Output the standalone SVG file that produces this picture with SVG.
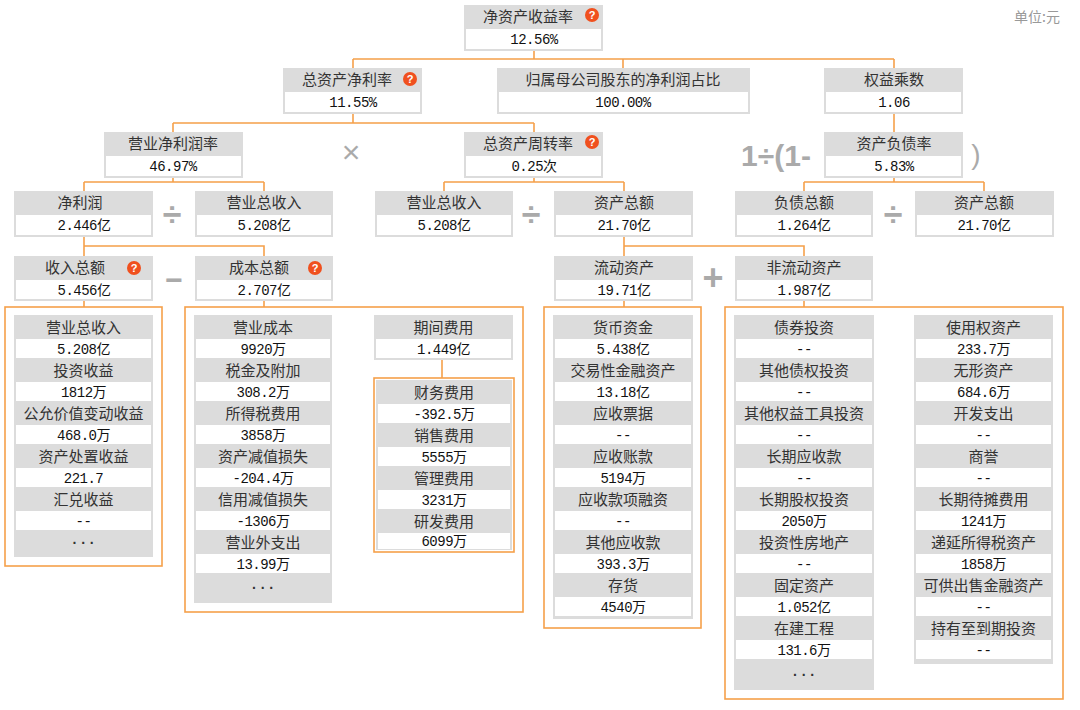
<svg xmlns="http://www.w3.org/2000/svg" width="1080" height="710" viewBox="0 0 1080 710">
<style>
.hd{fill:#dcdcdc}
.bd{fill:#ffffff}
.lb{font-family:"Noto Sans CJK SC","Noto Sans",sans-serif;font-size:15px;fill:#333;text-anchor:middle}
.vl{font-family:"Liberation Mono","Noto Sans CJK SC",monospace;font-size:14px;letter-spacing:-0.5px;fill:#111;text-anchor:middle}
.ob{fill:none;stroke:#f5a04a;stroke-width:1.6}
.cn{fill:none;stroke:#f5a04a;stroke-width:1.6}
.op{font-family:"Liberation Sans","Noto Sans CJK SC",sans-serif;fill:#aaa;text-anchor:middle}
.qi{fill:#f0501e}
.qt{font-family:"Liberation Sans",sans-serif;font-size:11px;font-weight:bold;fill:#fff;text-anchor:middle}
.el{font-family:"Liberation Sans",sans-serif;font-size:14px;font-weight:bold;fill:#333;text-anchor:middle}
</style>
<rect width="1080" height="710" fill="#fff"/>
<text x="1037" y="22" style="font-family:'Noto Sans CJK SC',sans-serif;font-size:14px;fill:#999;text-anchor:middle">单位:元</text>

<g id="connectors">
<path class="cn" d="M534 51V59M353 59H894M353 59V68M623 59V68M894 59V68"/>
<path class="cn" d="M353 114V123M173 123H534M173 123V132M534 123V132"/>
<path class="cn" d="M894 114V132"/>
<path class="cn" d="M173 178V182M84 182H264M84 182V191M264 182V191"/>
<path class="cn" d="M534 178V182M444 182H624M444 182V191M624 182V191"/>
<path class="cn" d="M894 178V182M804 182H984M804 182V191M984 182V191"/>
<path class="cn" d="M84 237V256M84 246H264V256"/>
<path class="cn" d="M624 237V256M624 246H804V256"/>
<path class="cn" d="M84 301V307M264 301V307M624 301V307M804 301V307"/>
<path class="cn" d="M442 360V378"/>
</g>

<g id="operators">
<text class="op" x="351" y="163" style="font-size:32px">×</text>
<text class="op" x="776" y="166" style="font-size:30px;font-weight:bold">1÷(1-</text>
<text class="op" x="976" y="164" style="font-size:28px">)</text>
<text class="op" x="172" y="226" style="font-size:34px;font-weight:bold">÷</text>
<text class="op" x="531" y="226" style="font-size:34px;font-weight:bold">÷</text>
<text class="op" x="893" y="226" style="font-size:34px;font-weight:bold">÷</text>
<text class="op" x="174" y="290" style="font-size:30px;font-weight:bold">−</text>
<text class="op" x="713" y="290" style="font-size:36px;font-weight:bold">+</text>
</g>

<g id="roe">
<rect class="hd" x="464" y="5" width="139" height="46"/>
<rect class="bd" x="466" y="29" width="135" height="20"/>
<text class="lb" x="528" y="22">净资产收益率</text>
<circle class="qi" cx="592" cy="15" r="7"/><text class="qt" x="592" y="19">?</text>
<text class="vl" x="534" y="44">12.56%</text>
</g>
<g id="roa">
<rect class="hd" x="283" y="68" width="139" height="46"/>
<rect class="bd" x="285" y="92" width="135" height="20"/>
<text class="lb" x="347" y="85">总资产净利率</text>
<circle class="qi" cx="410" cy="79" r="7"/><text class="qt" x="410" y="83">?</text>
<text class="vl" x="353" y="107">11.55%</text>
</g>
<g id="parent-ratio">
<rect class="hd" x="497" y="68" width="253" height="46"/>
<rect class="bd" x="499" y="92" width="249" height="20"/>
<text class="lb" x="623" y="85">归属母公司股东的净利润占比</text>
<text class="vl" x="623" y="107">100.00%</text>
</g>
<g id="equity-multiplier">
<rect class="hd" x="824" y="68" width="139" height="46"/>
<rect class="bd" x="826" y="92" width="135" height="20"/>
<text class="lb" x="894" y="85">权益乘数</text>
<text class="vl" x="894" y="107">1.06</text>
</g>
<g id="net-margin">
<rect class="hd" x="104" y="132" width="139" height="46"/>
<rect class="bd" x="106" y="156" width="135" height="20"/>
<text class="lb" x="173" y="149">营业净利润率</text>
<text class="vl" x="173" y="171">46.97%</text>
</g>
<g id="asset-turnover">
<rect class="hd" x="464" y="132" width="139" height="46"/>
<rect class="bd" x="466" y="156" width="135" height="20"/>
<text class="lb" x="528" y="149">总资产周转率</text>
<circle class="qi" cx="592" cy="142" r="7"/><text class="qt" x="592" y="146">?</text>
<text class="vl" x="534" y="171">0.25次</text>
</g>
<g id="debt-ratio">
<rect class="hd" x="824" y="132" width="139" height="46"/>
<rect class="bd" x="826" y="156" width="135" height="20"/>
<text class="lb" x="894" y="149">资产负债率</text>
<text class="vl" x="894" y="171">5.83%</text>
</g>
<g id="net-profit">
<rect class="hd" x="14" y="191" width="139" height="46"/>
<rect class="bd" x="16" y="215" width="135" height="20"/>
<text class="lb" x="80" y="208">净利润</text>
<text class="vl" x="84" y="230">2.446亿</text>
</g>
<g id="revenue-a">
<rect class="hd" x="195" y="191" width="138" height="46"/>
<rect class="bd" x="197" y="215" width="134" height="20"/>
<text class="lb" x="264" y="208">营业总收入</text>
<text class="vl" x="264" y="230">5.208亿</text>
</g>
<g id="revenue-b">
<rect class="hd" x="375" y="191" width="138" height="46"/>
<rect class="bd" x="377" y="215" width="134" height="20"/>
<text class="lb" x="444" y="208">营业总收入</text>
<text class="vl" x="444" y="230">5.208亿</text>
</g>
<g id="total-assets-a">
<rect class="hd" x="554" y="191" width="139" height="46"/>
<rect class="bd" x="556" y="215" width="135" height="20"/>
<text class="lb" x="624" y="208">资产总额</text>
<text class="vl" x="624" y="230">21.70亿</text>
</g>
<g id="total-liabilities">
<rect class="hd" x="735" y="191" width="138" height="46"/>
<rect class="bd" x="737" y="215" width="134" height="20"/>
<text class="lb" x="804" y="208">负债总额</text>
<text class="vl" x="804" y="230">1.264亿</text>
</g>
<g id="total-assets-b">
<rect class="hd" x="915" y="191" width="139" height="46"/>
<rect class="bd" x="917" y="215" width="135" height="20"/>
<text class="lb" x="984" y="208">资产总额</text>
<text class="vl" x="984" y="230">21.70亿</text>
</g>
<g id="total-income">
<rect class="hd" x="14" y="256" width="139" height="45"/>
<rect class="bd" x="16" y="280" width="135" height="19"/>
<text class="lb" x="75" y="273">收入总额</text>
<circle class="qi" cx="134" cy="268" r="7"/><text class="qt" x="134" y="272">?</text>
<text class="vl" x="84" y="295">5.456亿</text>
</g>
<g id="total-cost">
<rect class="hd" x="195" y="256" width="138" height="45"/>
<rect class="bd" x="197" y="280" width="134" height="19"/>
<text class="lb" x="259" y="273">成本总额</text>
<circle class="qi" cx="315" cy="268" r="7"/><text class="qt" x="315" y="272">?</text>
<text class="vl" x="264" y="295">2.707亿</text>
</g>
<g id="current-assets">
<rect class="hd" x="554" y="256" width="139" height="45"/>
<rect class="bd" x="556" y="280" width="135" height="19"/>
<text class="lb" x="624" y="273">流动资产</text>
<text class="vl" x="624" y="295">19.71亿</text>
</g>
<g id="noncurrent-assets">
<rect class="hd" x="735" y="256" width="138" height="45"/>
<rect class="bd" x="737" y="280" width="134" height="19"/>
<text class="lb" x="804" y="273">非流动资产</text>
<text class="vl" x="804" y="295">1.987亿</text>
</g>

<g id="income-list">
<rect class="ob" x="5" y="307" width="157" height="259"/>
<rect class="hd" x="14" y="315" width="139" height="242"/>
<text class="lb" x="83.5" y="333">营业总收入</text><rect class="bd" x="16" y="339" width="135" height="19"/><text class="vl" x="83.5" y="354">5.208亿</text>
<text class="lb" x="83.5" y="376">投资收益</text><rect class="bd" x="16" y="382" width="135" height="19"/><text class="vl" x="83.5" y="397">1812万</text>
<text class="lb" x="83.5" y="419">公允价值变动收益</text><rect class="bd" x="16" y="425" width="135" height="19"/><text class="vl" x="83.5" y="440">468.0万</text>
<text class="lb" x="83.5" y="462">资产处置收益</text><rect class="bd" x="16" y="468" width="135" height="19"/><text class="vl" x="83.5" y="483">221.7</text>
<text class="lb" x="83.5" y="505">汇兑收益</text><rect class="bd" x="16" y="511" width="135" height="19"/><text class="vl" x="83.5" y="526">--</text>
<text class="el" x="83.5" y="548">· · ·</text>
</g>

<g id="cost-list">
<rect class="ob" x="185" y="307" width="338" height="305"/>
<rect class="hd" x="194" y="315" width="138" height="288"/>
<text class="lb" x="263" y="333">营业成本</text><rect class="bd" x="196" y="339" width="134" height="19"/><text class="vl" x="263" y="354">9920万</text>
<text class="lb" x="263" y="376">税金及附加</text><rect class="bd" x="196" y="382" width="134" height="19"/><text class="vl" x="263" y="397">308.2万</text>
<text class="lb" x="263" y="419">所得税费用</text><rect class="bd" x="196" y="425" width="134" height="19"/><text class="vl" x="263" y="440">3858万</text>
<text class="lb" x="263" y="462">资产减值损失</text><rect class="bd" x="196" y="468" width="134" height="19"/><text class="vl" x="263" y="483">-204.4万</text>
<text class="lb" x="263" y="505">信用减值损失</text><rect class="bd" x="196" y="511" width="134" height="19"/><text class="vl" x="263" y="526">-1306万</text>
<text class="lb" x="263" y="548">营业外支出</text><rect class="bd" x="196" y="554" width="134" height="19"/><text class="vl" x="263" y="569">13.99万</text>
<text class="el" x="263" y="593">· · ·</text>
</g>

<g id="period-expense">
<rect class="hd" x="374" y="315" width="139" height="45"/>
<rect class="bd" x="376" y="339" width="135" height="19"/>
<text class="lb" x="443.5" y="333">期间费用</text>
<text class="vl" x="443.5" y="354">1.449亿</text>
</g>
<g id="period-expense-list">
<rect class="ob" x="374" y="378" width="140" height="174"/>
<rect class="hd" x="376" y="380" width="136" height="170"/>
<text class="lb" x="444" y="398">财务费用</text><rect class="bd" x="378" y="404" width="132" height="19"/><text class="vl" x="444" y="419">-392.5万</text>
<text class="lb" x="444" y="441">销售费用</text><rect class="bd" x="378" y="447" width="132" height="19"/><text class="vl" x="444" y="462">5555万</text>
<text class="lb" x="444" y="484">管理费用</text><rect class="bd" x="378" y="490" width="132" height="19"/><text class="vl" x="444" y="505">3231万</text>
<text class="lb" x="444" y="527">研发费用</text><rect class="bd" x="378" y="533" width="132" height="16"/><text class="vl" x="444" y="546">6099万</text>
</g>

<g id="current-assets-list">
<rect class="ob" x="544" y="307" width="157" height="321"/>
<rect class="hd" x="553" y="315" width="140" height="304"/>
<text class="lb" x="623" y="333">货币资金</text><rect class="bd" x="555" y="339" width="136" height="19"/><text class="vl" x="623" y="354">5.438亿</text>
<text class="lb" x="623" y="376">交易性金融资产</text><rect class="bd" x="555" y="382" width="136" height="19"/><text class="vl" x="623" y="397">13.18亿</text>
<text class="lb" x="623" y="419">应收票据</text><rect class="bd" x="555" y="425" width="136" height="19"/><text class="vl" x="623" y="440">--</text>
<text class="lb" x="623" y="462">应收账款</text><rect class="bd" x="555" y="468" width="136" height="19"/><text class="vl" x="623" y="483">5194万</text>
<text class="lb" x="623" y="505">应收款项融资</text><rect class="bd" x="555" y="511" width="136" height="19"/><text class="vl" x="623" y="526">--</text>
<text class="lb" x="623" y="548">其他应收款</text><rect class="bd" x="555" y="554" width="136" height="19"/><text class="vl" x="623" y="569">393.3万</text>
<text class="lb" x="623" y="591">存货</text><rect class="bd" x="555" y="597" width="136" height="19"/><text class="vl" x="623" y="612">4540万</text>
</g>

<g id="noncurrent-assets-list">
<rect class="ob" x="725" y="307" width="338" height="392"/>
<rect class="hd" x="734" y="315" width="140" height="375"/>
<text class="lb" x="804" y="333">债券投资</text><rect class="bd" x="736" y="339" width="136" height="19"/><text class="vl" x="804" y="354">--</text>
<text class="lb" x="804" y="376">其他债权投资</text><rect class="bd" x="736" y="382" width="136" height="19"/><text class="vl" x="804" y="397">--</text>
<text class="lb" x="804" y="419">其他权益工具投资</text><rect class="bd" x="736" y="425" width="136" height="19"/><text class="vl" x="804" y="440">--</text>
<text class="lb" x="804" y="462">长期应收款</text><rect class="bd" x="736" y="468" width="136" height="19"/><text class="vl" x="804" y="483">--</text>
<text class="lb" x="804" y="505">长期股权投资</text><rect class="bd" x="736" y="511" width="136" height="19"/><text class="vl" x="804" y="526">2050万</text>
<text class="lb" x="804" y="548">投资性房地产</text><rect class="bd" x="736" y="554" width="136" height="19"/><text class="vl" x="804" y="569">--</text>
<text class="lb" x="804" y="591">固定资产</text><rect class="bd" x="736" y="597" width="136" height="19"/><text class="vl" x="804" y="612">1.052亿</text>
<text class="lb" x="804" y="634">在建工程</text><rect class="bd" x="736" y="640" width="136" height="19"/><text class="vl" x="804" y="655">131.6万</text>
<text class="el" x="804" y="680">· · ·</text>
<rect class="hd" x="914" y="315" width="139" height="349"/>
<text class="lb" x="983.5" y="333">使用权资产</text><rect class="bd" x="916" y="339" width="135" height="19"/><text class="vl" x="983.5" y="354">233.7万</text>
<text class="lb" x="983.5" y="376">无形资产</text><rect class="bd" x="916" y="382" width="135" height="19"/><text class="vl" x="983.5" y="397">684.6万</text>
<text class="lb" x="983.5" y="419">开发支出</text><rect class="bd" x="916" y="425" width="135" height="19"/><text class="vl" x="983.5" y="440">--</text>
<text class="lb" x="983.5" y="462">商誉</text><rect class="bd" x="916" y="468" width="135" height="19"/><text class="vl" x="983.5" y="483">--</text>
<text class="lb" x="983.5" y="505">长期待摊费用</text><rect class="bd" x="916" y="511" width="135" height="19"/><text class="vl" x="983.5" y="526">1241万</text>
<text class="lb" x="983.5" y="548">递延所得税资产</text><rect class="bd" x="916" y="554" width="135" height="19"/><text class="vl" x="983.5" y="569">1858万</text>
<text class="lb" x="983.5" y="591">可供出售金融资产</text><rect class="bd" x="916" y="597" width="135" height="19"/><text class="vl" x="983.5" y="612">--</text>
<text class="lb" x="983.5" y="634">持有至到期投资</text><rect class="bd" x="916" y="640" width="135" height="19"/><text class="vl" x="983.5" y="655">--</text>
</g>
</svg>
